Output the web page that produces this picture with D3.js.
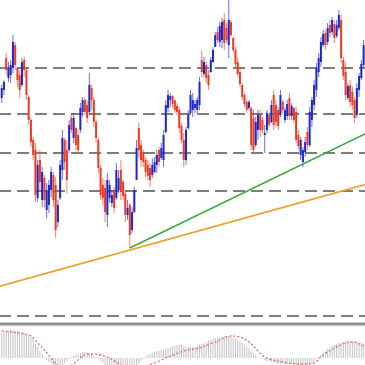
<!DOCTYPE html>
<html>
<head>
<meta charset="utf-8">
<script src="https://cdn.jsdelivr.net/npm/d3@7"></script>
<style>
    html, body { margin: 0; padding: 0; background: #fff; }
    svg { display: block; }
</style>
</head>
<body>
<div id="chart"></div>
<script>
const BASE_PRICE = 1.1000;
const PIP = 0.0001;

// OHLC per bar, in pips above 1.1000
const openPips = [
    218, 226, 258, 238, 241, 248, 271, 248, 241, 231, 256, 246, 219, 196, 176, 166, 118, 156, 116, 138,
    106, 111, 126, 141, 131, 94, 118, 146, 176, 166, 166, 198, 178, 188, 181, 186, 204, 216, 211, 204,
    228, 216, 194, 176, 148, 131, 128, 101, 118, 113, 126, 118, 126, 146, 134, 122, 101, 111, 86, 104,
    136, 188, 171, 164, 156, 151, 148, 141, 144, 151, 166, 158, 156, 184, 208, 216, 220, 216, 210, 206,
    190, 176, 156, 188, 203, 206, 208, 206, 211, 256, 242, 251, 241, 244, 254, 269, 284, 274, 276, 296,
    288, 271, 294, 278, 266, 254, 244, 231, 221, 214, 208, 208, 198, 171, 186, 201, 196, 181, 186, 201, 194,
    221, 211, 206, 201, 214, 196, 200, 218, 200, 208, 204, 181, 161, 154, 164, 184, 171, 196, 211, 226,
    244, 254, 271, 283, 274, 291, 284, 292, 280, 288, 296, 256, 244, 218, 231, 224, 216, 201, 226, 238, 251
];
const highPips = [
    231, 236, 263, 254, 256, 281, 274, 249, 246, 258, 259, 248, 221, 198, 179, 173, 156, 166, 149, 141,
    133, 136, 149, 144, 139, 116, 156, 186, 178, 176, 196, 203, 203, 189, 186, 213, 219, 218, 216, 243,
    231, 219, 196, 178, 151, 138, 136, 143, 136, 126, 129, 153, 146, 156, 136, 126, 116, 113, 109, 129,
    176, 193, 176, 166, 159, 156, 153, 158, 159, 166, 169, 173, 186, 216, 226, 223, 221, 216, 213, 209,
    193, 183, 189, 206, 226, 223, 216, 219, 239, 266, 259, 254, 246, 259, 269, 284, 289, 294, 298, 303,
    293, 316, 296, 279, 269, 259, 249, 233, 223, 216, 216, 209, 206, 199, 206, 206, 199, 191, 206, 203, 216,
    226, 216, 209, 226, 216, 209, 216, 223, 213, 209, 209, 186, 179, 169, 179, 189, 209, 219, 236, 253,
    263, 279, 286, 286, 293, 296, 299, 296, 296, 306, 301, 259, 253, 233, 236, 229, 219, 233, 243, 256, 276
];
const lowPips = [
    213, 221, 241, 234, 233, 243, 246, 229, 218, 229, 239, 216, 191, 169, 156, 114, 114, 126, 109, 109,
    98, 103, 119, 109, 78, 89, 116, 136, 146, 123, 163, 183, 173, 166, 163, 183, 199, 201, 193, 201,
    206, 189, 173, 143, 116, 111, 94, 89, 113, 109, 103, 116, 123, 116, 116, 94, 96, 68, 83, 103,
    136, 159, 149, 149, 139, 136, 129, 138, 143, 143, 149, 156, 149, 183, 204, 209, 208, 203, 201, 183,
    173, 149, 151, 186, 203, 199, 203, 203, 206, 239, 239, 233, 226, 243, 253, 269, 273, 269, 268, 266,
    273, 258, 279, 263, 249, 239, 229, 216, 209, 203, 206, 166, 163, 169, 176, 179, 183, 163, 183, 189, 193,
    186, 189, 186, 199, 203, 193, 196, 196, 196, 193, 173, 166, 156, 149, 159, 166, 169, 189, 206, 219,
    239, 249, 269, 266, 271, 279, 281, 273, 278, 286, 253, 236, 216, 216, 209, 206, 193, 198, 219, 236, 249
];
const closePips = [
    228, 234, 246, 248, 251, 274, 251, 236, 226, 254, 246, 221, 196, 174, 161, 121, 151, 134, 144, 116,
    126, 131, 144, 116, 86, 111, 151, 178, 154, 136, 191, 186, 198, 171, 166, 208, 216, 204, 198, 231,
    216, 194, 178, 148, 121, 118, 104, 136, 131, 121, 108, 146, 138, 124, 120, 101, 108, 81, 104, 126,
    168, 166, 156, 154, 144, 140, 136, 151, 154, 161, 154, 168, 181, 211, 221, 220, 212, 206, 204, 188,
    176, 156, 186, 201, 221, 216, 212, 216, 234, 244, 254, 238, 231, 256, 266, 281, 276, 290, 294, 273,
    276, 296, 281, 266, 252, 242, 232, 219, 212, 206, 214, 171, 166, 194, 201, 186, 186, 183, 203, 191, 211,
    191, 194, 190, 221, 206, 206, 212, 200, 210, 196, 176, 170, 176, 166, 174, 171, 204, 216, 231, 248,
    258, 274, 282, 271, 288, 283, 296, 278, 291, 301, 258, 240, 221, 230, 214, 211, 198, 228, 240, 252, 271
];

// horizontal support / resistance levels (pips above 1.1000)
const levelPips = [248, 202, 163, 125, 0];

// trend lines: [bar index, pips]
const greenTrend = [[57, 68], [134, 152]];
const orangeTrend = [[57, 66], [161, 131]];

// oscillator (points): histogram per bar, signal line at some bars
const macdHist = [
    25, 26, 27, 27, 28, 28, 27, 27, 26, 26, 25, 24, 23, 21, 18, 14, 11, 7, 4, 1,
    -2, -4, -6, -8, -9, -10, -9, -7, -5, -3, -1, 1, 2, 3,
    4, 5, 6, 6, 6, 5, 4, 3, 1,
    -1, -3, -5, -7, -8, -9, -10, -10,
    -11, -11, -11, -11, -12, -12, -12, -11, -10,
    -8, -6, -3, -1, 1,
    3, 4, 5, 6, 7, 7, 8, 8, 9, 10, 11, 12, 12, 13, 13,
    13, 12, 11, 11, 11, 11, 11, 12, 13, 14, 15, 16, 17, 18, 19, 20, 20, 21, 21, 22,
    22, 22, 21, 20, 19, 18, 17, 15, 13, 11, 9, 7, 5, 3, 1, 0,
    -1, -2, -3, -3, -4, -5, -5, -6, -6, -6, -6, -6, -6, -6, -7, -7, -8, -8, -9, -9, -8, -7, -5, -3,
    -1, 1, 3, 5, 7, 9, 10, 12, 13, 14, 15, 16, 16, 17, 17, 17, 17, 16, 16, 15, 15, 14
];
const signalBars = [0, 4, 8, 13, 16, 19, 22, 24, 28, 33, 36, 39, 44, 48, 53, 58, 64, 69, 75, 81,
    88, 95, 102, 106, 110, 117, 125, 133, 139, 142, 148, 156, 161];
const signalValues = [27, 26, 25, 22, 15, 8, 0, -6, -10, -4, 2, 4, 3, 0, -7, -12, -8, -4, 2, 7,
    10, 16, 22, 21, 16, 1, -4, -6, -5, 1, 10, 16, 12];

const width = 365;
const height = 365;

const bars = openPips.map((o, i) => ({
    i,
    open: BASE_PRICE + o * PIP,
    high: BASE_PRICE + highPips[i] * PIP,
    low: BASE_PRICE + lowPips[i] * PIP,
    close: BASE_PRICE + closePips[i] * PIP
}));

const svg = d3.select('#chart').append('svg').attr('width', width).attr('height', height);

const x = d3.scaleLinear().domain([0, bars.length - 1]).range([1.7, 363.6]);
const y = d3.scaleLinear().domain([BASE_PRICE, BASE_PRICE + 316 * PIP]).range([316, 0]);
const osc = d3.scaleLinear().domain([-10, 30]).range([368, 328]);

const defs = svg.append('defs');
defs.append('clipPath').attr('id', 'main-clip')
    .append('rect').attr('x', 0).attr('y', 0).attr('width', width).attr('height', 321);
defs.append('clipPath').attr('id', 'osc-clip')
    .append('rect').attr('x', 0).attr('y', 327).attr('width', width).attr('height', height - 327);

const main = svg.append('g').attr('clip-path', 'url(#main-clip)');

// Dashed levels
main.append('g')
    .selectAll('line')
    .data(levelPips)
    .enter()
    .append('line')
    .attr('x1', -1)
    .attr('x2', width)
    .attr('y1', (p) => y(BASE_PRICE + p * PIP))
    .attr('y2', (p) => y(BASE_PRICE + p * PIP))
    .attr('stroke', '#7d7d7d')
    .attr('stroke-width', 2)
    .attr('stroke-dasharray', '12,6');

const UP = '#1c27cc';
const DOWN = '#ee3a22';
const color = (d) => (d.close >= d.open ? UP : DOWN);
const bodyWidth = 2;

// Wicks
main.append('g')
    .selectAll('line')
    .data(bars)
    .enter()
    .append('line')
    .attr('x1', (d) => x(d.i))
    .attr('x2', (d) => x(d.i))
    .attr('y1', (d) => y(d.high))
    .attr('y2', (d) => y(d.low))
    .attr('stroke', color)
    .attr('stroke-opacity', 0.65)
    .attr('stroke-width', 1);

// Bodies
main.append('g')
    .selectAll('rect')
    .data(bars)
    .enter()
    .append('rect')
    .attr('x', (d) => x(d.i) - bodyWidth / 2)
    .attr('y', (d) => y(Math.max(d.open, d.close)))
    .attr('width', bodyWidth)
    .attr('height', (d) => Math.max(1, Math.abs(y(d.open) - y(d.close))))
    .attr('fill', color);

// Trend lines, extended to the right edge (orange also to the left)
function trendPoints(pts, extendLeft) {
    const [[i0, p0], [i1, p1]] = pts;
    const slope = (p1 - p0) / (i1 - i0);
    const left = extendLeft ? x.invert(0) : i0;
    const right = x.invert(width);
    return [left, right].map((i) => [x(i), y(BASE_PRICE + (p0 + slope * (i - i0)) * PIP)]);
}

main.append('path')
    .attr('d', d3.line()(trendPoints(orangeTrend, true)))
    .attr('fill', 'none')
    .attr('stroke', '#f0a02c')
    .attr('stroke-width', 1.8);

main.append('path')
    .attr('d', d3.line()(trendPoints(greenTrend, false)))
    .attr('fill', 'none')
    .attr('stroke', '#3aa83c')
    .attr('stroke-width', 1.6);

// Panel separator
svg.append('rect').attr('x', 0).attr('y', 322.5).attr('width', width).attr('height', 2.5).attr('fill', '#8c8c8c');
svg.append('rect').attr('x', 0).attr('y', 325).attr('width', width).attr('height', 1.5).attr('fill', '#cfcfcf');

// Oscillator panel
const lower = svg.append('g').attr('clip-path', 'url(#osc-clip)');

lower.append('g')
    .selectAll('line')
    .data(macdHist)
    .enter()
    .append('line')
    .attr('x1', (v, i) => x(i))
    .attr('x2', (v, i) => x(i))
    .attr('y1', osc(0))
    .attr('y2', (v) => osc(v))
    .attr('stroke', '#c2c2c2')
    .attr('stroke-width', 1);

const signal = signalBars.map((b, k) => ({ i: b, v: signalValues[k] }));
lower.append('path')
    .attr('d', d3.line().x((d) => x(d.i)).y((d) => osc(d.v)).curve(d3.curveMonotoneX)(signal))
    .attr('fill', 'none')
    .attr('stroke', '#d8705e')
    .attr('stroke-width', 1.3)
    .attr('stroke-dasharray', '2,2');
</script>
</body>
</html>
